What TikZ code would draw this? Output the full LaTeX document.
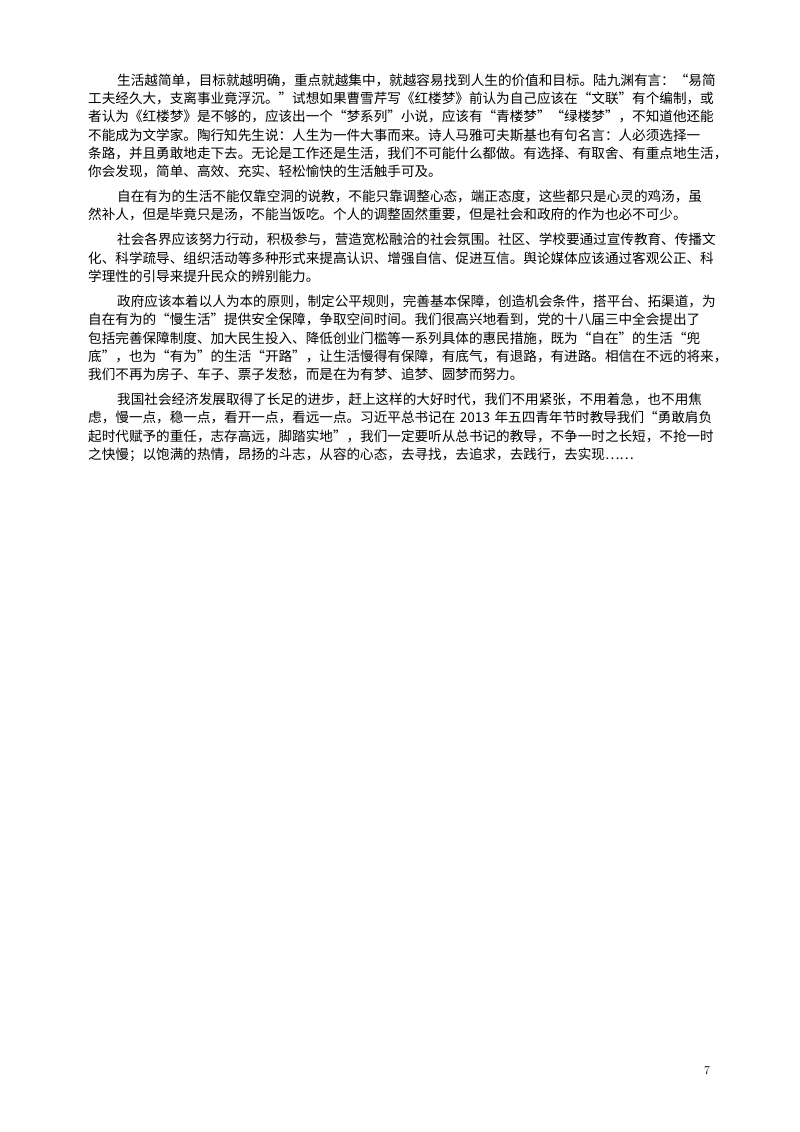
\documentclass[tikz,border=0pt]{standalone}
\usepackage{fontspec}
\newfontfamily\cjk{Noto Sans CJK SC}
\newcommand\cg{\hskip 0pt plus 1fil\relax}
\XeTeXinterchartoks 1 1 = {\cg}
\XeTeXinterchartoks 1 2 = {\cg}
\XeTeXinterchartoks 3 1 = {\cg}
\XeTeXinterchartoks 3 2 = {\cg}
\XeTeXinterchartoks 3 3 = {\cg}
\XeTeXinterchartoks 1 3 = {\cg}
\XeTeXinterchartoks 1 0 = {\cg}
\XeTeXinterchartoks 0 1 = {\cg}
\XeTeXinterchartoks 3 0 = {\cg}
\newcommand\fl[2]{\node[txt] at (88pt,-#1pt) {\makebox[624pt][s]{#2}};}
\newcommand\il[2]{\node[txt] at (117pt,-#1pt) {\makebox[595pt][s]{#2}};}
\newcommand\lastl[2]{\node[txt] at (88pt,-#1pt) {#2};}
\begin{document}
\begin{tikzpicture}[x=1pt,y=1pt,
  txt/.style={anchor=west,inner sep=0pt,font=\cjk\fontsize{13.6}{16}\selectfont}]
\XeTeXinterchartokenstate=1
\useasboundingbox (0,0) rectangle (800,-1132);
\il{80}{生活越简单，目标就越明确，重点就越集中，就越容易找到人生的价值和目标。陆九渊有言：“易简}
\fl{98.3}{工夫经久大，支离事业竟浮沉。”试想如果曹雪芹写《红楼梦》前认为自己应该在“文联”有个编制，或}
\fl{116.6}{者认为《红楼梦》是不够的，应该出一个“梦系列”小说，应该有“青楼梦”“绿楼梦”，不知道他还能}
\fl{134.9}{不能成为文学家。陶行知先生说：人生为一件大事而来。诗人马雅可夫斯基也有句名言：人必须选择一}
\fl{153.2}{条路，并且勇敢地走下去。无论是工作还是生活，我们不可能什么都做。有选择、有取舍、有重点地生活，}
\lastl{171.5}{你会发现，简单、高效、充实、轻松愉快的生活触手可及。}
\il{196.5}{自在有为的生活不能仅靠空洞的说教，不能只靠调整心态，端正态度，这些都只是心灵的鸡汤，虽}
\fl{214.8}{然补人，但是毕竟只是汤，不能当饭吃。个人的调整固然重要，但是社会和政府的作为也必不可少。}
\il{239.8}{社会各界应该努力行动，积极参与，营造宽松融洽的社会氛围。社区、学校要通过宣传教育、传播文}
\fl{258.1}{化、科学疏导、组织活动等多种形式来提高认识、增强自信、促进互信。舆论媒体应该通过客观公正、科}
\lastl{276.4}{学理性的引导来提升民众的辨别能力。}
\il{301.4}{政府应该本着以人为本的原则，制定公平规则，完善基本保障，创造机会条件，搭平台、拓渠道，为}
\fl{319.7}{自在有为的“慢生活”提供安全保障，争取空间时间。我们很高兴地看到，党的十八届三中全会提出了}
\fl{338}{包括完善保障制度、加大民生投入、降低创业门槛等一系列具体的惠民措施，既为“自在”的生活“兜}
\fl{356.3}{底”，也为“有为”的生活“开路”，让生活慢得有保障，有底气，有退路，有进路。相信在不远的将来，}
\lastl{374.6}{我们不再为房子、车子、票子发愁，而是在为有梦、追梦、圆梦而努力。}
\il{399.6}{我国社会经济发展取得了长足的进步，赶上这样的大好时代，我们不用紧张，不用着急，也不用焦}
\fl{417.9}{虑，慢一点，稳一点，看开一点，看远一点。习近平总书记在 2013 年五四青年节时教导我们“勇敢肩负}
\fl{436.2}{起时代赋予的重任，志存高远，脚踏实地”，我们一定要听从总书记的教导，不争一时之长短，不抢一时}
\lastl{454.5}{之快慢；以饱满的热情，昂扬的斗志，从容的心态，去寻找，去追求，去践行，去实现……}
\node[anchor=center,inner sep=0pt,font=\fontsize{12}{14}\selectfont] (pn) at (707,-1071) {7};
\end{tikzpicture}
\end{document}
